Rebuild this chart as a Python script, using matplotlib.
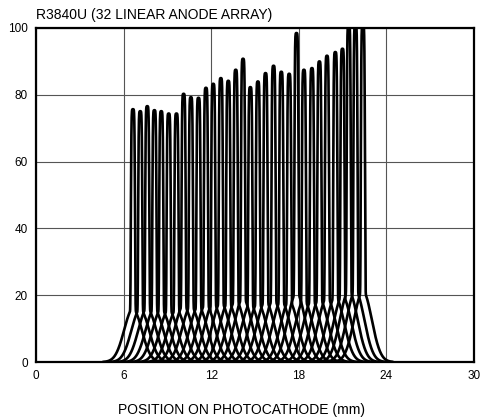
import numpy as np
import matplotlib.pyplot as plt

plt.rcParams['font.family'] = ['Liberation Sans', 'DejaVu Sans']

# peak positions (mm) and relative output (%) for the 32 anodes
anode_pos = [6.64, 7.14, 7.62, 8.11, 8.58, 9.09, 9.62, 10.11,
             10.61, 11.13, 11.64, 12.14, 12.66, 13.17, 13.68, 14.18,
             14.68, 15.20, 15.72, 16.27, 16.80, 17.34, 17.84, 18.35,
             18.90, 19.41, 19.93, 20.50, 20.99, 21.42, 21.88, 22.39]
anode_out = [75.7, 75.1, 76.6, 75.4, 75.1, 74.4, 74.4, 80.3,
             79.3, 79.1, 82.1, 83.3, 85.0, 84.2, 87.5, 90.8,
             82.3, 84.0, 86.5, 88.7, 86.9, 86.3, 98.5, 87.5,
             88.0, 90.0, 91.7, 92.8, 93.8, 101.0, 101.0, 101.0]

xticks = [0, 6, 12, 18, 24, 30]
yticks = [0, 20, 40, 60, 80, 100]


def response(x, c, h):
    d = np.abs(x - c)
    body = np.exp(-(d / 0.15) ** 6)
    tail = np.exp(-(d / 0.85) ** 2)
    return h * (0.79 * body + 0.21 * tail)


fig = plt.figure(figsize=(4.82, 4.19), dpi=100)
ax = fig.add_axes([36 / 482, 57 / 419, 438 / 482, 334 / 419])

for c, h in zip(anode_pos, anode_out):
    x = np.linspace(c - 2.0, c + 2.0, 800)
    ax.plot(x, response(x, c, h), color='black', lw=1.9)

ax.set_xlim(0, 30)
ax.set_ylim(0, 100)
ax.set_xticks(xticks)
ax.set_yticks(yticks)
ax.tick_params(length=0, labelsize=8.5, pad=6)
ax.grid(True, color='#555555', lw=0.8)
ax.set_axisbelow(True)
for s in ax.spines.values():
    s.set_linewidth(1.6)

fig.text(36 / 482, 1 - 15 / 419, 'R3840U (32 LINEAR ANODE ARRAY)',
         fontsize=10, ha='left', va='center')
fig.text(241 / 482, 9 / 419, 'POSITION ON PHOTOCATHODE (mm)',
         fontsize=10, ha='center', va='center')

fig.savefig('out.png', dpi=100)
